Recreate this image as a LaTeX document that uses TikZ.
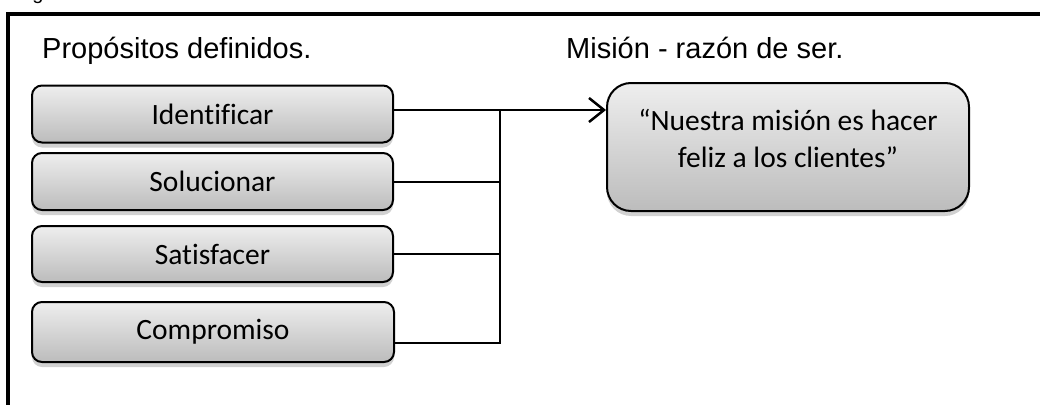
\documentclass[tikz,border=0pt]{standalone}
\usepackage{fontspec}
\setmainfont{Carlito}[Ligatures=NoCommon]
\newfontfamily\arialf{Liberation Sans}
\usetikzlibrary{arrows.meta,shadows}
\definecolor{boxtop}{RGB}{238,238,238}
\definecolor{boxbot}{RGB}{188,188,188}
\tikzset{
  box/.style={draw=black, line width=2pt, rounded corners=10pt,
    top color=boxtop, bottom color=boxbot, minimum width=361pt,
    inner sep=0pt, align=center,
    font=\fontsize{29.5}{37}\selectfont,
    drop shadow={shadow xshift=0pt, shadow yshift=-5pt, opacity=0.18, fill=black}},
  heading/.style={anchor=base west, inner sep=0pt, font=\arialf\fontsize{29}{34}\selectfont},
  conn/.style={line width=2pt},
}
\begin{document}
\begin{tikzpicture}[x=1pt,y=-1pt]
\useasboundingbox (0,0) rectangle (1040,404);
% partially visible caption above the frame
\node[anchor=base, inner sep=0pt, font=\arialf\fontsize{20}{24}\selectfont] (cap) at (38,-0.5) {g};
% frame
\draw[line width=4.5pt] (8,430) -- (8,14) -- (1060,14);
% headings
\node[heading] (h1) at (42,59) {Propósitos definidos.};
\node[heading] (h2) at (566,59) {Misión - razón de ser.};
% boxes
\node[box, minimum height=57pt] (ident) at (212.5,114) {Identificar};
\node[box, minimum height=57pt] (sol)   at (212.5,181.5) {Solucionar};
\node[box, minimum height=56pt] (sat)   at (212.5,254) {Satisfacer};
\node[box, minimum height=60pt, minimum width=362pt] (comp) at (213,332) {Compromiso};
\node[box, rounded corners=24pt, minimum width=362pt, minimum height=128pt] (mis) at (788,147)
  {\raisebox{5pt}[\height][\depth]{\begin{tabular}{@{}c@{}}“Nuestra misión es hacer\\feliz a los clientes”\end{tabular}}};
% connectors
\coordinate (jt) at (500,110);
\coordinate (jb) at (500,343);
\draw[conn] ([yshift=-11pt]comp.east) -- (jb) -- (jt);
\draw[conn] (sol.east) -- (sol.east -| jt);
\draw[conn] (sat.east) -- (sat.east -| jt);
\draw[conn, -{Straight Barb[length=15pt,width=24pt,line width=2.5pt]}] ([yshift=4pt]ident.east) -- (mis.west |- jt);
\end{tikzpicture}
\end{document}
